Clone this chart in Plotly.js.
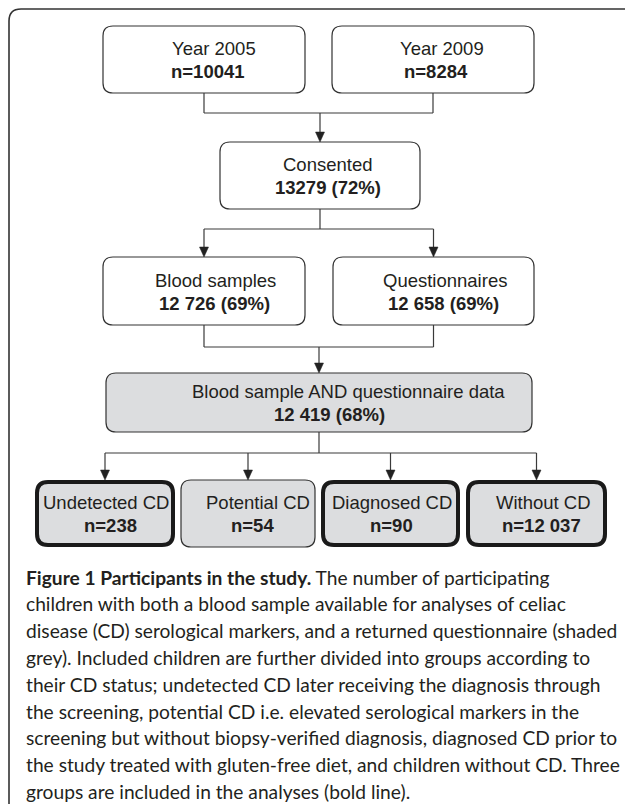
<!DOCTYPE html>
<html>
<head>
<meta charset="utf-8">
<script src="https://cdn.plot.ly/plotly-3.0.1.min.js"></script>
<style>html,body{margin:0;padding:0;background:#fff;}#chart{width:625px;height:804px;}</style>
</head>
<body>
<div id="chart"></div>
<script>
// ---- data ----
var nodeLabels = ["Year 2005", "Year 2009", "Consented", "Blood samples", "Questionnaires",
  "Blood sample AND questionnaire data", "Undetected CD", "Potential CD", "Diagnosed CD", "Without CD"];
var nodeCounts = ["n=10041", "n=8284", "13279 (72%)", "12 726 (69%)", "12 658 (69%)",
  "12 419 (68%)", "n=238", "n=54", "n=90", "n=12 037"];
var shadedGrey = [false, false, false, false, false, true, true, true, true, true];
var boldLine = [false, false, false, false, false, false, true, false, true, true];
var captionTitle = "Figure 1 Participants in the study.";
var captionLines = [
  " The number of participating",
  "children with both a blood sample available for analyses of celiac",
  "disease (CD) serological markers, and a returned questionnaire (shaded",
  "grey). Included children are further divided into groups according to",
  "their CD status; undetected CD later receiving the diagnosis through",
  "the screening, potential CD i.e. elevated serological markers in the",
  "screening but without biopsy-verified diagnosis, diagnosed CD prior to",
  "the study treated with gluten-free diet, and children without CD. Three",
  "groups are included in the analyses (bold line)."
];

// ---- layout geometry (pixel-like axis units) ----
var boxes = [ // x0, x1, y0, y1, text centre offset for label, for count
  [103, 305, 26, 93, 10, 4],
  [332, 534, 26, 93, 9, 3],
  [220, 420, 142, 209, 7, 8],
  [103, 305, 257, 325, 11, 10],
  [333, 534, 257, 325, 11, 10],
  [106, 532, 373, 432, 29, 10],
  [35, 175, 480, 547, 1, 5],
  [181, 315, 480, 547, 10, 4],
  [321, 460, 480, 547, 1, 1],
  [466, 607, 480, 547, 7, 5]
];
// connectors: [fromBoxes, toBoxes, barY]
var links = [
  [[0, 1], [2], 113],
  [[2], [3, 4], 229],
  [[3, 4], [5], 347],
  [[5], [6, 7, 8, 9], 453]
];

var LINE = '#3a3a3a', TXT = '#231f20';
var shapes = [], annotations = [];

function rr(x0, y0, x1, y1, r) {
  return 'M' + (x0 + r) + ',' + y0 + ' L' + (x1 - r) + ',' + y0 + ' Q' + x1 + ',' + y0 + ' ' + x1 + ',' + (y0 + r) +
    ' L' + x1 + ',' + (y1 - r) + ' Q' + x1 + ',' + y1 + ' ' + (x1 - r) + ',' + y1 +
    ' L' + (x0 + r) + ',' + y1 + ' Q' + x0 + ',' + y1 + ' ' + x0 + ',' + (y1 - r) +
    ' L' + x0 + ',' + (y0 + r) + ' Q' + x0 + ',' + y0 + ' ' + (x0 + r) + ',' + y0 + ' Z';
}
function seg(x0, y0, x1, y1) {
  shapes.push({type: 'line', xref: 'x', yref: 'y', x0: x0, y0: y0, x1: x1, y1: y1,
    line: {color: LINE, width: 1.2}, layer: 'above'});
}
function arrowDown(x, yTop, yTip) {
  seg(x, yTop, x, yTip - 8);
  shapes.push({type: 'path', xref: 'x', yref: 'y',
    path: 'M' + (x - 4.5) + ',' + (yTip - 10) + ' L' + (x + 4.5) + ',' + (yTip - 10) + ' L' + x + ',' + yTip + ' Z',
    fillcolor: '#222', line: {color: '#222', width: 0.5}, layer: 'above'});
}

// outer frame
shapes.push({type: 'path', xref: 'x', yref: 'y', path: rr(9, 9, 636, 815, 12),
  line: {color: '#333', width: 1.6}, fillcolor: 'rgba(0,0,0,0)'});

// boxes
var boxFont = 'Liberation Sans, Arial, sans-serif';
for (var i = 0; i < nodeLabels.length; i++) {
  var b = boxes[i];
  var bold = boldLine[i];
  var ins = bold ? 2 : 0;
  shapes.push({type: 'path', xref: 'x', yref: 'y',
    path: rr(b[0] + ins, b[2] + ins, b[1] - ins, b[3] - ins, bold ? 11 : 10),
    fillcolor: shadedGrey[i] ? '#dcdddf' : '#ffffff',
    line: {color: bold ? '#1a1a1a' : '#333', width: bold ? 4 : 1.2}});
  var cx = (b[0] + b[1]) / 2, cy = (b[2] + b[3]) / 2;
  annotations.push({x: cx + b[4], y: cy - 11, xref: 'x', yref: 'y', text: nodeLabels[i], showarrow: false,
    font: {family: boxFont, size: 18.5, color: TXT}, xanchor: 'center', yanchor: 'middle'});
  annotations.push({x: cx + b[5], y: cy + 12, xref: 'x', yref: 'y', text: '<b>' + nodeCounts[i] + '</b>', showarrow: false,
    font: {family: boxFont, size: 18.5, color: TXT}, xanchor: 'center', yanchor: 'middle'});
}

// connectors
links.forEach(function (lk) {
  var from = lk[0], to = lk[1], barY = lk[2];
  var xs = [];
  from.forEach(function (k) {
    var b = boxes[k], cx = (b[0] + b[1]) / 2;
    seg(cx, b[3], cx, barY); xs.push(cx);
  });
  to.forEach(function (k) {
    var b = boxes[k], cx = (b[0] + b[1]) / 2;
    arrowDown(cx, barY, b[2]); xs.push(cx);
  });
  var mn = Math.min.apply(null, xs), mx = Math.max.apply(null, xs);
  if (mx > mn) seg(mn, barY, mx, barY);
});

// caption
var capFont = {family: 'Lato, Open Sans, sans-serif', size: 19.2, color: TXT};
annotations.push({x: 24, y: 577, xref: 'x', yref: 'y', xanchor: 'left', yanchor: 'middle', showarrow: false,
  text: '<b>' + captionTitle + '</b>' + captionLines[0], font: capFont});
for (var j = 1; j < captionLines.length; j++) {
  annotations.push({x: 24, y: 577 + 26.8 * j, xref: 'x', yref: 'y', xanchor: 'left', yanchor: 'middle', showarrow: false,
    text: captionLines[j], font: capFont});
}

var data = [{type: 'scatter', x: [], y: [], mode: 'markers', hoverinfo: 'skip', showlegend: false}];
var layout = {
  width: 625, height: 804,
  margin: {l: 0, r: 0, t: 0, b: 0, pad: 0},
  paper_bgcolor: '#ffffff', plot_bgcolor: '#ffffff',
  xaxis: {range: [0, 625], visible: false, fixedrange: true},
  yaxis: {range: [804, 0], visible: false, fixedrange: true},
  shapes: shapes, annotations: annotations, showlegend: false
};
Plotly.newPlot('chart', data, layout, {staticPlot: true, displayModeBar: false});
</script>
</body>
</html>
